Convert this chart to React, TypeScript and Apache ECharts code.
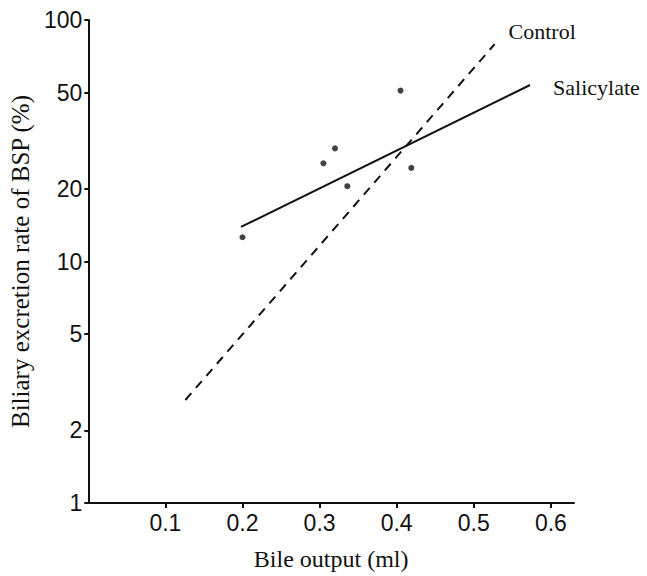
import React, { useEffect, useRef } from "react";
import * as echarts from "echarts";

const bileOutput = [0.2, 0.305, 0.32, 0.336, 0.405, 0.419];
const excretionRate = [12.6, 25.5, 29.4, 20.5, 51, 24.4];

const salicylateX = [0.198, 0.573];
const salicylateY = [13.9, 53.8];
const controlX = [0.126, 0.527];
const controlY = [2.67, 79.4];

const xTicks = [0.1, 0.2, 0.3, 0.4, 0.5, 0.6];
const yTicks = [1, 2, 5, 10, 20, 50, 100];

const serif = "'Liberation Serif', 'Times New Roman', serif";
const sans = "'Liberation Sans', Arial, sans-serif";

export default function App() {
  const ref = useRef<HTMLDivElement>(null);
  useEffect(() => {
    if (!ref.current) return;
    const chart = echarts.init(ref.current, undefined, { renderer: "svg" });
    chart.setOption({
      animation: false,
      backgroundColor: "#ffffff",
      grid: { left: 82, right: 73, top: 20, bottom: 71 },
      xAxis: {
        type: "value",
        min: 0,
        max: 0.63,
        name: "Bile output (ml)",
        nameLocation: "middle",
        nameGap: 44,
        nameTextStyle: { fontFamily: serif, fontSize: 24, color: "#111" },
        splitLine: { show: false },
        axisLine: { lineStyle: { color: "#111", width: 2 } },
        axisTick: { customValues: xTicks, length: 5, lineStyle: { color: "#111", width: 2 } },
        axisLabel: {
          customValues: xTicks,
          margin: 8,
          fontFamily: sans,
          fontSize: 23,
          color: "#111",
          formatter: (v: number) => v.toFixed(1),
        },
      },
      yAxis: {
        type: "log",
        logBase: 10,
        min: 1,
        max: 100,
        name: "Biliary excretion rate of BSP (%)",
        nameLocation: "middle",
        nameGap: 48,
        nameTextStyle: { fontFamily: serif, fontSize: 25, color: "#111" },
        splitLine: { show: false },
        axisLine: { lineStyle: { color: "#111", width: 2 } },
        axisTick: { customValues: yTicks, length: 4, lineStyle: { color: "#111", width: 2 } },
        axisLabel: {
          customValues: yTicks,
          margin: 6,
          fontFamily: sans,
          fontSize: 23,
          color: "#111",
        },
      },
      series: [
        {
          type: "line",
          name: "Control",
          data: controlX.map((x, i) => [x, controlY[i]]),
          showSymbol: false,
          lineStyle: { color: "#111", width: 2, type: [9, 7] },
          endLabel: {
            show: true,
            formatter: "Control",
            offset: [6, -13],
            fontFamily: serif,
            fontSize: 22,
            color: "#111",
          },
        },
        {
          type: "line",
          name: "Salicylate",
          data: salicylateX.map((x, i) => [x, salicylateY[i]]),
          showSymbol: false,
          lineStyle: { color: "#111", width: 2 },
          endLabel: {
            show: true,
            formatter: "Salicylate",
            offset: [15, 2],
            fontFamily: serif,
            fontSize: 22,
            color: "#111",
          },
        },
        {
          type: "scatter",
          name: "Data",
          data: bileOutput.map((x, i) => [x, excretionRate[i]]),
          symbol: "circle",
          symbolSize: 6,
          itemStyle: { color: "#111" },
        },
      ],
    });
    return () => chart.dispose();
  }, []);
  return (
    <div
      ref={ref}
      style={{ position: "absolute", left: 0, top: 0, width: 647, height: 576 }}
    />
  );
}
